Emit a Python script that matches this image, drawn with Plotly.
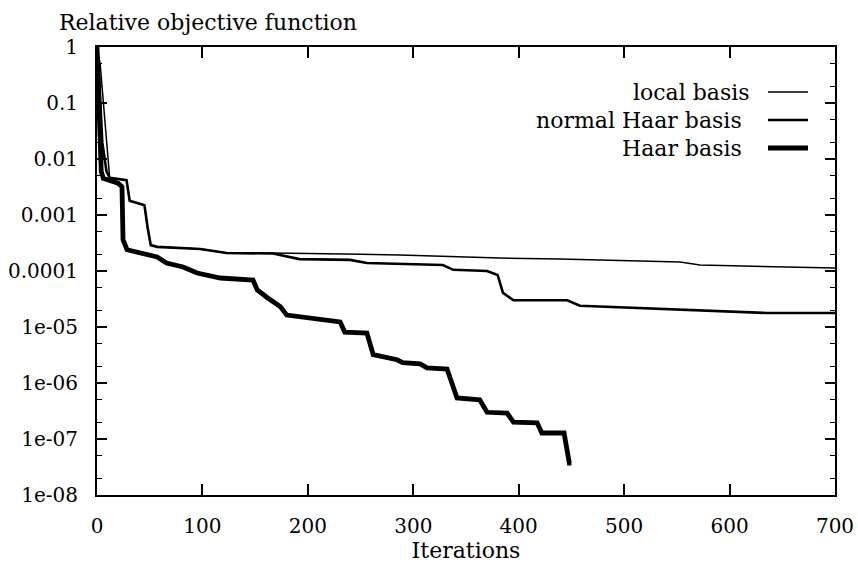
import plotly.graph_objects as go

# ---------------- data ----------------
local_iter = [0, 3, 12, 28, 31, 45, 48, 51, 57, 76, 98, 123, 167, 250, 287, 382, 439, 553, 572, 700]
local_val = [1, 0.5, 4.6e-3, 4.2e-3, 1.8e-3, 1.5e-3, 6e-4, 2.9e-4, 2.7e-4, 2.6e-4, 2.47e-4,
             2.1e-4, 2.09e-4, 2.0e-4, 1.94e-4, 1.7e-4, 1.63e-4, 1.45e-4, 1.28e-4, 1.13e-4]

normal_iter = [0, 2, 5, 9, 12, 28, 31, 45, 48, 51, 57, 76, 98, 123, 167, 192, 240, 256, 288,
               328, 338, 370, 380, 385, 395, 446, 458, 572, 636, 700]
normal_val = [1, 0.3, 0.02, 6e-3, 4.6e-3, 4.2e-3, 1.8e-3, 1.5e-3, 6e-4, 2.9e-4, 2.7e-4, 2.6e-4,
              2.47e-4, 2.1e-4, 2.05e-4, 1.63e-4, 1.58e-4, 1.39e-4, 1.33e-4, 1.28e-4, 1.05e-4,
              1.0e-4, 8.5e-5, 4.1e-5, 3.0e-5, 3.0e-5, 2.4e-5, 2.0e-5, 1.78e-5, 1.78e-5]

haar_iter = [0, 2, 4, 6, 20, 23.7, 24.7, 28.5, 43.6, 57, 66, 81.6, 95, 107, 117, 148, 152, 161,
             174, 180, 192.6, 211.6, 230.6, 235, 256, 262, 284.6, 290, 306.5, 313, 332, 341.5,
             363, 370, 389, 395, 417.5, 422, 443, 448, 450]
haar_val = [1, 0.1, 6e-3, 4.5e-3, 3.7e-3, 3.2e-3, 3.6e-4, 2.4e-4, 2.1e-4, 1.78e-4, 1.39e-4,
            1.18e-4, 9.2e-5, 8.1e-5, 7.5e-5, 6.9e-5, 4.6e-5, 3.4e-5, 2.3e-5, 1.63e-5, 1.51e-5,
            1.33e-5, 1.23e-5, 8.1e-6, 7.8e-6, 3.2e-6, 2.6e-6, 2.3e-6, 2.2e-6, 1.86e-6, 1.78e-6,
            5.4e-7, 5.0e-7, 3.0e-7, 2.9e-7, 2.0e-7, 1.94e-7, 1.28e-7, 1.28e-7, 3.7e-8, 3.7e-8]

series_names = ["local basis", "normal Haar basis", "Haar basis"]
series_widths = [1.5, 2.6, 4.8]

x_ticks = [0, 100, 200, 300, 400, 500, 600, 700]
y_ticks = [1, 1e-1, 1e-2, 1e-3, 1e-4, 1e-5, 1e-6, 1e-7, 1e-8]
y_ticktext = ["1", "0.1", "0.01", "0.001", "0.0001", "1e-05", "1e-06", "1e-07", "1e-08"]

# ---------------- figure ----------------
W, H = 858, 571
L, R, T, B = 97, 23, 47, 76
PW, PH = W - L - R, H - T - B
FONT = "DejaVu Serif"
FS = 22     # title / legend / axis title
TFS = 20    # tick labels


def px(x):
    return (x - L) / PW


def py(y):
    return (H - B - y) / PH


fig = go.Figure()
for xs, ys, name, w in zip([local_iter, normal_iter, haar_iter],
                           [local_val, normal_val, haar_val],
                           series_names, series_widths):
    fig.add_trace(go.Scatter(x=xs, y=ys, mode="lines", name=name,
                             line=dict(color="black", width=w), showlegend=False))

# legend drawn by hand: right-aligned text with line sample on the right
leg_y = [92, 120, 148]
leg_right = [752, 744, 744]
for name, w, yy, xr in zip(series_names, series_widths, leg_y, leg_right):
    fig.add_annotation(xref="paper", yref="paper", x=px(xr), y=py(yy), text=name,
                       showarrow=False, xanchor="right", yanchor="middle",
                       font=dict(family=FONT, size=FS, color="black"))
    fig.add_shape(type="line", xref="paper", yref="paper", x0=px(768), x1=px(808),
                  y0=py(yy), y1=py(yy), line=dict(color="black", width=w))

fig.add_annotation(xref="paper", yref="paper", x=px(57), y=py(22),
                   text="Relative objective function", showarrow=False,
                   xanchor="left", yanchor="middle",
                   font=dict(family=FONT, size=FS, color="black"))

fig.update_layout(
    width=W, height=H,
    margin=dict(l=L, r=R, t=T, b=B, pad=0, autoexpand=False),
    paper_bgcolor="white", plot_bgcolor="white",
    font=dict(family=FONT, size=FS, color="black"),
)
fig.update_xaxes(
    range=[0, 700], tickvals=x_ticks, ticks="inside", ticklen=11, tickwidth=1.5,
    tickcolor="black", showline=True, linecolor="black", linewidth=2, mirror="ticks",
    showgrid=False, zeroline=False, ticklabelstandoff=12, automargin=False,
    tickfont=dict(family=FONT, size=TFS, color="black"),
    title=dict(text="Iterations", standoff=6, font=dict(family=FONT, size=FS, color="black")),
)
fig.update_yaxes(
    type="log", range=[-8, 0], tickvals=y_ticks, ticktext=y_ticktext,
    ticks="inside", ticklen=10, tickwidth=1.5, tickcolor="black",
    showline=True, linecolor="black", linewidth=2, mirror="ticks",
    showgrid=False, zeroline=False, ticklabelstandoff=13, automargin=False,
    tickfont=dict(family=FONT, size=TFS, color="black"),
    minor=dict(ticks="inside", ticklen=5, tickwidth=1, tickcolor="black", showgrid=False),
)

fig.write_html("out.html")
